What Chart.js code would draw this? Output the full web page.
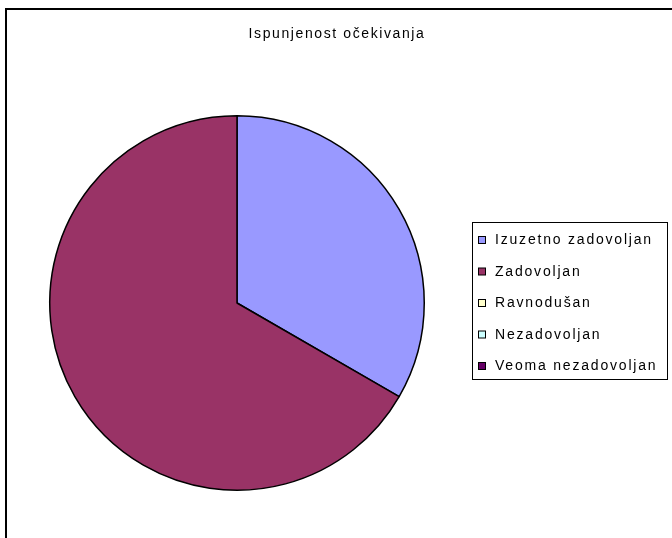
<!DOCTYPE html>
<html>
<head>
<meta charset="utf-8">
<script src="https://cdn.jsdelivr.net/npm/chart.js@4/dist/chart.umd.min.js"></script>
<style>
  html, body { margin: 0; padding: 0; background: #fff; }
  #wrap { width: 672px; height: 538px; }
</style>
</head>
<body>
<div id="wrap"><canvas id="chart" width="672" height="538"></canvas></div>
<script>
var chartTitle = "Ispunjenost očekivanja";
var categories = ["Izuzetno zadovoljan", "Zadovoljan", "Ravnodušan", "Nezadovoljan", "Veoma nezadovoljan"];
var answers = [1, 2, 0, 0, 0];
var sliceColors = ["#9999FF", "#993366", "#FFFFCC", "#CCFFFF", "#660066"];

var FONT = "Liberation Sans, Arial, sans-serif";

// outer frame and the title (title centred on the whole frame, not the pie)
var framePlugin = {
  id: "frame",
  beforeDraw: function (chart) {
    var ctx = chart.ctx;
    ctx.save();
    ctx.fillStyle = "#fff";
    ctx.fillRect(0, 0, chart.width, chart.height);
    ctx.strokeStyle = "#000";
    ctx.lineWidth = 2;
    ctx.strokeRect(6, 9, chart.width + 20, chart.height + 20);

    ctx.font = "14px " + FONT;
    ctx.letterSpacing = "1.6px";
    ctx.fillStyle = "#000";
    ctx.textAlign = "center";
    ctx.textBaseline = "middle";
    ctx.fillText(chartTitle, 337, 34);
    ctx.restore();
  }
};

// legend drawn by hand so the box can sit on the right like the original
var legendPlugin = {
  id: "boxLegend",
  afterDraw: function (chart) {
    var ctx = chart.ctx;
    var labels = chart.data.labels;
    var colors = chart.data.datasets[0].backgroundColor;
    var boxX = 472.5, boxY = 222.5, boxW = 195, boxH = 157;
    var firstY = 240, step = 31.5;

    ctx.save();
    ctx.strokeStyle = "#000";
    ctx.lineWidth = 1;
    ctx.strokeRect(boxX, boxY, boxW, boxH);

    ctx.font = "14px " + FONT;
    ctx.letterSpacing = "1.8px";
    ctx.textBaseline = "middle";
    ctx.textAlign = "left";
    for (var i = 0; i < labels.length; i++) {
      var y = firstY + i * step;
      ctx.fillStyle = colors[i];
      ctx.fillRect(478.5, y - 3.5, 7, 7);
      ctx.strokeStyle = "#000";
      ctx.strokeRect(478.5, y - 3.5, 7, 7);
      ctx.fillStyle = "#000";
      ctx.fillText(labels[i], 495, y + 0.5);
    }
    ctx.restore();
  }
};

new Chart(document.getElementById("chart"), {
  type: "pie",
  data: {
    labels: categories,
    datasets: [{
      data: answers,
      backgroundColor: sliceColors,
      borderColor: "#000",
      borderWidth: 1.5,
      hoverOffset: 0
    }]
  },
  options: {
    responsive: false,
    animation: false,
    events: [],
    layout: {
      padding: { left: 49, right: 247, top: 115, bottom: 47 }
    },
    plugins: {
      legend: { display: false },
      tooltip: { enabled: false },
      title: { display: false }
    }
  },
  plugins: [framePlugin, legendPlugin]
});
</script>
</body>
</html>
